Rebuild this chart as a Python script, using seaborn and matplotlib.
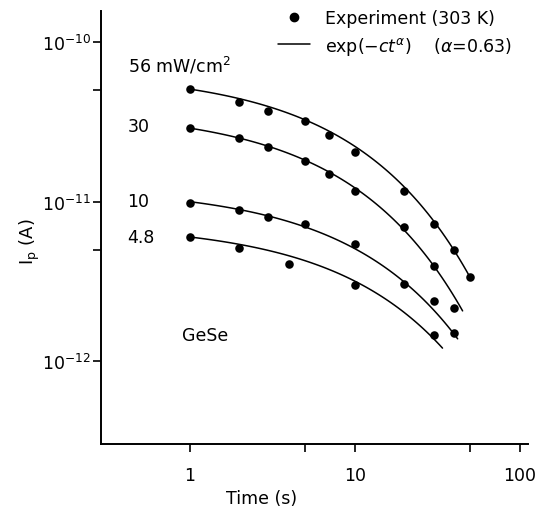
import numpy as np
import pandas as pd
import seaborn as sns
import matplotlib.pyplot as plt
from matplotlib.lines import Line2D

# measured photocurrent decay, GeSe at 303 K
intensity = ['56', '30', '10', '4.8']
t_56 = [1, 2, 3, 5, 7, 10, 20, 30, 40, 50]
ip_56 = [5.07e-11, 4.24e-11, 3.71e-11, 3.18e-11, 2.62e-11, 2.06e-11, 1.16e-11, 7.23e-12, 4.96e-12, 3.35e-12]
t_30 = [1, 2, 3, 5, 7, 10, 20, 30, 40]
ip_30 = [2.89e-11, 2.50e-11, 2.19e-11, 1.79e-11, 1.49e-11, 1.17e-11, 6.89e-12, 3.93e-12, 2.15e-12]
t_10 = [1, 2, 3, 5, 10, 20, 30, 40]
ip_10 = [9.80e-12, 8.89e-12, 7.96e-12, 7.23e-12, 5.42e-12, 3.07e-12, 2.39e-12, 1.51e-12]
t_48 = [1, 2, 4, 10, 30]
ip_48 = [6.01e-12, 5.16e-12, 4.06e-12, 2.99e-12, 1.46e-12]

# stretched exponential fit I0*exp(-c t^alpha), parameters
alpha = 0.63
fit_i0 = [6.53e-11, 3.76e-11, 1.23e-11, 7.3e-12]
fit_c = [0.2526, 0.2636, 0.2075, 0.195]
fit_tend = [50, 45, 42, 34]

pts = pd.concat([
    pd.DataFrame({'t': t, 'ip': ip, 'set': s})
    for t, ip, s in zip([t_56, t_30, t_10, t_48], [ip_56, ip_30, ip_10, ip_48], intensity)
])
fits = []
for s, i0, c, te in zip(intensity, fit_i0, fit_c, fit_tend):
    tt = np.logspace(0, np.log10(te), 80)
    fits.append(pd.DataFrame({'t': tt, 'ip': i0 * np.exp(-c * tt**alpha), 'set': s}))
fits = pd.concat(fits)

sns.set_style('ticks', {'axes.edgecolor': 'black', 'text.color': 'black',
                        'xtick.color': 'black', 'ytick.color': 'black',
                        'axes.labelcolor': 'black'})
plt.rcParams['font.family'] = ['DejaVu Sans']
fig = plt.figure(figsize=(5.36, 5.10), dpi=100)
ax = fig.add_axes([0.188, 0.127, 0.797, 0.849])

sns.lineplot(data=fits, x='t', y='ip', units='set', estimator=None, color='black',
             lw=1.1, sort=False, ax=ax, legend=False)
sns.scatterplot(data=pts, x='t', y='ip', color='black', s=38, edgecolor='black',
                linewidth=0, ax=ax, legend=False)

ax.set_xscale('log')
ax.set_yscale('log')
ax.set_xlim(0.289, 112)
ax.set_ylim(3.02e-13, 1.56e-10)
ax.set_xticks([1, 5, 10, 50, 100])
ax.set_xticklabels(['1', '', '10', '', '100'])
ax.set_yticks([1e-12, 5e-12, 1e-11, 5e-11, 1e-10])
ax.set_yticklabels([r'$10^{-12}$', '', r'$10^{-11}$', '', r'$10^{-10}$'])
ax.minorticks_off()
ax.tick_params(axis='both', direction='out', length=6, width=1.2, labelsize=12.5)
ax.tick_params(axis='x', pad=10)
ax.tick_params(axis='y', pad=1)
sns.despine(ax=ax)
for sp in ['left', 'bottom']:
    ax.spines[sp].set_linewidth(1.4)

ax.set_xlabel('Time (s)', fontsize=12.5, x=0.377, labelpad=3)
ax.set_ylabel(r'I$_\mathrm{p}$ (A)', fontsize=13, y=0.47, labelpad=0)

lab_y = [6.58e-11, 2.77e-11, 9.37e-12, 5.57e-12]
lab_txt = [r'56 mW/cm$^2$', '30', '10', '4.8']
for y, s in zip(lab_y, lab_txt):
    ax.text(0.42, y, s, fontsize=12.5, ha='left', va='baseline')
ax.text(0.9, 1.35e-12, 'GeSe', fontsize=12.5, ha='left', va='baseline')

handles = [Line2D([], [], marker='o', color='black', ls='none', ms=6),
           Line2D([], [], color='black', lw=1.1)]
labels = ['Experiment (303 K)', r'exp$(-ct^{\alpha})$    ($\alpha$=0.63)']
ax.legend(handles, labels, loc='upper left', bbox_to_anchor=(0.502, 0.997),
          bbox_transform=fig.transFigure, frameon=False, fontsize=12.5,
          handlelength=1.85, handletextpad=0.86, labelspacing=0.42, borderpad=0)

fig.savefig('out.png', dpi=100)
